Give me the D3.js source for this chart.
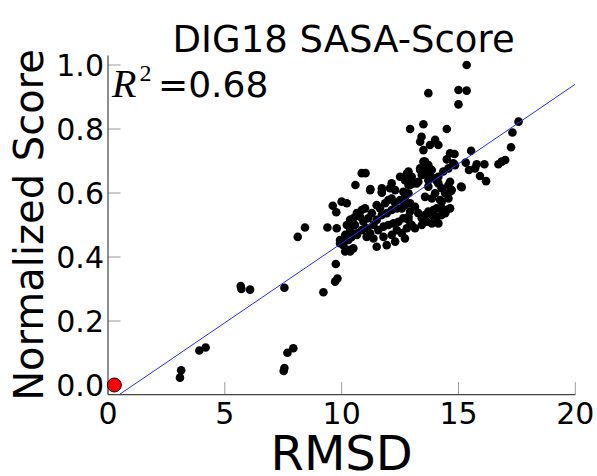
<!DOCTYPE html>
<html>
<head>
<meta charset="utf-8">
<script src="https://cdn.jsdelivr.net/npm/d3@7/dist/d3.min.js"></script>
<style>
  html, body { margin: 0; padding: 0; background: #fff; }
  svg { display: block; font-family: "DejaVu Sans", sans-serif; }
</style>
</head>
<body>
<svg id="chart" width="597" height="476"></svg>
<script>
const title = "DIG18 SASA-Score";
const xLabel = "RMSD";
const yLabel = "Normalized Score";
const xTicks = [0, 5, 10, 15, 20];
const yTicks = [0.0, 0.2, 0.4, 0.6, 0.8, 1.0];
const xLimits = [0, 20];
const yLimits = [-0.03, 1.03];
const r2Text = "=0.68";
const fitSlope = 0.0497;
const fitIntercept = -0.054;
const nativePoint = [0.27, 0.0];

// rmsd, normalized score
const decoys = [
  [3.08, 0.023], [3.13, 0.046], [3.91, 0.108], [4.18, 0.117], [5.68, 0.309], [5.71, 0.300],
  [6.08, 0.298], [7.55, 0.304], [7.52, 0.044], [7.55, 0.053], [7.68, 0.101], [7.93, 0.115],
  [8.12, 0.463], [8.43, 0.492], [9.22, 0.29], [9.72, 0.323], [9.82, 0.333], [9.75, 0.378],
  [9.39, 0.492],
  [9.62, 0.56], [9.77, 0.54], [10.0, 0.573], [10.22, 0.568], [9.79, 0.49], [9.93, 0.443],
  [10.07, 0.437], [10.29, 0.422], [10.5, 0.427], [10.22, 0.453], [10.43, 0.463], [10.64, 0.474],
  [10.86, 0.484], [10.15, 0.417], [10.36, 0.417], [9.93, 0.453], [10.15, 0.469], [10.36, 0.484],
  [10.29, 0.453], [10.65, 0.469], [10.22, 0.5], [10.57, 0.5], [10.36, 0.516], [10.5, 0.521],
  [10.79, 0.526], [10.65, 0.537], [10.86, 0.547], [11.0, 0.552], [10.93, 0.51], [11.14, 0.521],
  [11.29, 0.537], [11.07, 0.49], [11.36, 0.5], [11.5, 0.516], [11.72, 0.531], [11.93, 0.537],
  [12.14, 0.547], [12.36, 0.552], [12.57, 0.552], [12.71, 0.562], [11.22, 0.474], [11.57, 0.484],
  [11.79, 0.495], [12.0, 0.5], [12.22, 0.505], [12.43, 0.51], [12.64, 0.521], [12.86, 0.526],
  [11.07, 0.463], [11.36, 0.458], [11.79, 0.463], [12.14, 0.469], [12.36, 0.484], [12.57, 0.474],
  [12.79, 0.49], [11.5, 0.432], [11.93, 0.437], [12.29, 0.448], [12.71, 0.458],
  [10.86, 0.662], [11.02, 0.662], [10.59, 0.625], [11.23, 0.612],
  [11.5, 0.562], [11.64, 0.552], [11.86, 0.568], [12.0, 0.578], [12.14, 0.583], [12.29, 0.568],
  [12.5, 0.578], [12.71, 0.588], [12.86, 0.599], [12.93, 0.625], [11.72, 0.615], [11.72, 0.601],
  [12.14, 0.63], [12.07, 0.615], [12.29, 0.609], [12.5, 0.651], [12.71, 0.64], [12.79, 0.661],
  [12.86, 0.667], [12.86, 0.64], [13.21, 0.63], [13.36, 0.672], [13.5, 0.698], [13.64, 0.656],
  [11.22, 0.609], [11.72, 0.604], [12.64, 0.604],
  [12.93, 0.8], [13.5, 0.815], [14.5, 0.8], [13.42, 0.776], [13.36, 0.76], [13.5, 0.734],
  [13.78, 0.75], [14.0, 0.766], [14.14, 0.75], [13.71, 0.912], [15.0, 0.922], [15.35, 0.92],
  [15.0, 0.877], [15.35, 1.0],
  [13.57, 0.698], [13.71, 0.687], [13.64, 0.672], [13.86, 0.672], [13.78, 0.656],
  [14.64, 0.724], [14.83, 0.722], [14.5, 0.705], [14.78, 0.693], [14.57, 0.677], [14.35, 0.667],
  [14.14, 0.651], [15.14, 0.618],
  [17.57, 0.823], [17.31, 0.789], [17.25, 0.743], [17.0, 0.703], [16.85, 0.698], [16.71, 0.69],
  [16.18, 0.637], [15.92, 0.653], [16.11, 0.69], [15.78, 0.69], [15.71, 0.677], [15.45, 0.672],
  [15.54, 0.732], [15.31, 0.695], [15.11, 0.62], [14.85, 0.687],
  [13.0, 0.651], [13.36, 0.677], [13.43, 0.656], [13.28, 0.635], [13.07, 0.63], [12.86, 0.625],
  [13.71, 0.64], [13.93, 0.646], [14.14, 0.63], [14.28, 0.615], [14.57, 0.625], [14.71, 0.609],
  [14.43, 0.599], [14.0, 0.599], [14.21, 0.578], [13.86, 0.583], [13.57, 0.588], [14.64, 0.635],
  [14.07, 0.638], [13.71, 0.62],
  [12.93, 0.568], [13.14, 0.557], [12.93, 0.542], [13.28, 0.537], [12.86, 0.516], [13.0, 0.5],
  [13.43, 0.521], [13.57, 0.531], [13.71, 0.542], [13.93, 0.547], [14.07, 0.552], [14.28, 0.552],
  [14.5, 0.547], [14.64, 0.552], [13.86, 0.531], [14.07, 0.526], [14.28, 0.531], [14.43, 0.537],
  [13.64, 0.51], [13.86, 0.505], [14.07, 0.51], [13.43, 0.5], [13.14, 0.49],
  [14.57, 0.583], [14.28, 0.573], [14.14, 0.505], [14.64, 0.604]
];

const svg = d3.select("#chart");
const width = 597;
const height = 476;
const margin = { top: 55.4, right: 21.7, bottom: 81.4, left: 108 };

const xScale = d3.scaleLinear().domain(xLimits).range([margin.left, width - margin.right]);
const yScale = d3.scaleLinear().domain(yLimits).range([height - margin.bottom, margin.top]);

svg.append("defs").append("clipPath").attr("id", "plot-clip")
  .append("rect")
  .attr("x", xScale(xLimits[0]))
  .attr("y", yScale(yLimits[1]))
  .attr("width", xScale(xLimits[1]) - xScale(xLimits[0]))
  .attr("height", yScale(yLimits[0]) - yScale(yLimits[1]));

// ticks point inward, matplotlib style
svg.append("g")
  .selectAll("line")
  .data(xTicks)
  .join("line")
  .attr("x1", (d) => xScale(d))
  .attr("x2", (d) => xScale(d))
  .attr("y1", yScale(yLimits[0]))
  .attr("y2", yScale(yLimits[0]) - 12.5)
  .attr("stroke", "#9a9a9a")
  .attr("stroke-width", 1);

svg.append("g")
  .selectAll("line")
  .data(yTicks)
  .join("line")
  .attr("x1", xScale(xLimits[0]))
  .attr("x2", xScale(xLimits[0]) + 12.5)
  .attr("y1", (d) => yScale(d))
  .attr("y2", (d) => yScale(d))
  .attr("stroke", "#9a9a9a")
  .attr("stroke-width", 1);

// spines
svg.append("line")
  .attr("x1", xScale(xLimits[0])).attr("x2", xScale(xLimits[0]))
  .attr("y1", yScale(yLimits[0])).attr("y2", yScale(yLimits[1]))
  .attr("stroke", "#444").attr("stroke-width", 1.2);
svg.append("line")
  .attr("x1", xScale(xLimits[0])).attr("x2", xScale(xLimits[1]))
  .attr("y1", yScale(yLimits[0])).attr("y2", yScale(yLimits[0]))
  .attr("stroke", "#444").attr("stroke-width", 1.2);

svg.append("g")
  .selectAll("text")
  .data(xTicks)
  .join("text")
  .attr("x", (d) => xScale(d))
  .attr("y", yScale(yLimits[0]) + 29)
  .attr("text-anchor", "middle")
  .attr("font-size", 30)
  .text((d) => String(d));

svg.append("g")
  .selectAll("text")
  .data(yTicks)
  .join("text")
  .attr("x", xScale(xLimits[0]) - 4)
  .attr("y", (d) => yScale(d) + 11)
  .attr("text-anchor", "end")
  .attr("font-size", 30)
  .text((d) => d.toFixed(1));

// scatter
svg.append("g")
  .selectAll("circle")
  .data(decoys)
  .join("circle")
  .attr("cx", (d) => xScale(d[0]))
  .attr("cy", (d) => yScale(d[1]))
  .attr("r", 4.3)
  .attr("fill", "#000");

// fit line
const fitLine = d3.line().x((d) => xScale(d)).y((d) => yScale(fitSlope * d + fitIntercept));
svg.append("path")
  .datum(xLimits)
  .attr("clip-path", "url(#plot-clip)")
  .attr("fill", "none")
  .attr("stroke", "#2a2aff")
  .attr("stroke-width", 1)
  .attr("d", fitLine);

svg.append("circle")
  .attr("cx", xScale(nativePoint[0]))
  .attr("cy", yScale(nativePoint[1]))
  .attr("r", 7)
  .attr("fill", "#ff0000")
  .attr("stroke", "#000")
  .attr("stroke-width", 1);

// labels
svg.append("text")
  .attr("x", (xScale(xLimits[0]) + xScale(xLimits[1])) / 2 + 2)
  .attr("y", 52)
  .attr("text-anchor", "middle")
  .attr("font-size", 37)
  .text(title);

const r2 = svg.append("text").attr("x", 112).attr("y", 97).attr("font-size", 36);
r2.append("tspan").attr("font-family", "'Liberation Serif', serif").attr("font-style", "italic").attr("font-size", 40).text("R");
r2.append("tspan").attr("font-family", "'Liberation Serif', serif").attr("font-size", 24).attr("dy", -16).attr("dx", 3).text("2");
r2.append("tspan").attr("x", 158).attr("y", 97).text(r2Text);

svg.append("text")
  .attr("x", (xScale(xLimits[0]) + xScale(xLimits[1])) / 2)
  .attr("y", 470)
  .attr("text-anchor", "middle")
  .attr("font-size", 48)
  .text(xLabel);

svg.append("text")
  .attr("transform", `translate(43, ${(yScale(yLimits[0]) + yScale(yLimits[1])) / 2}) rotate(-90)`)
  .attr("text-anchor", "middle")
  .attr("font-size", 40)
  .text(yLabel);
</script>
</body>
</html>
